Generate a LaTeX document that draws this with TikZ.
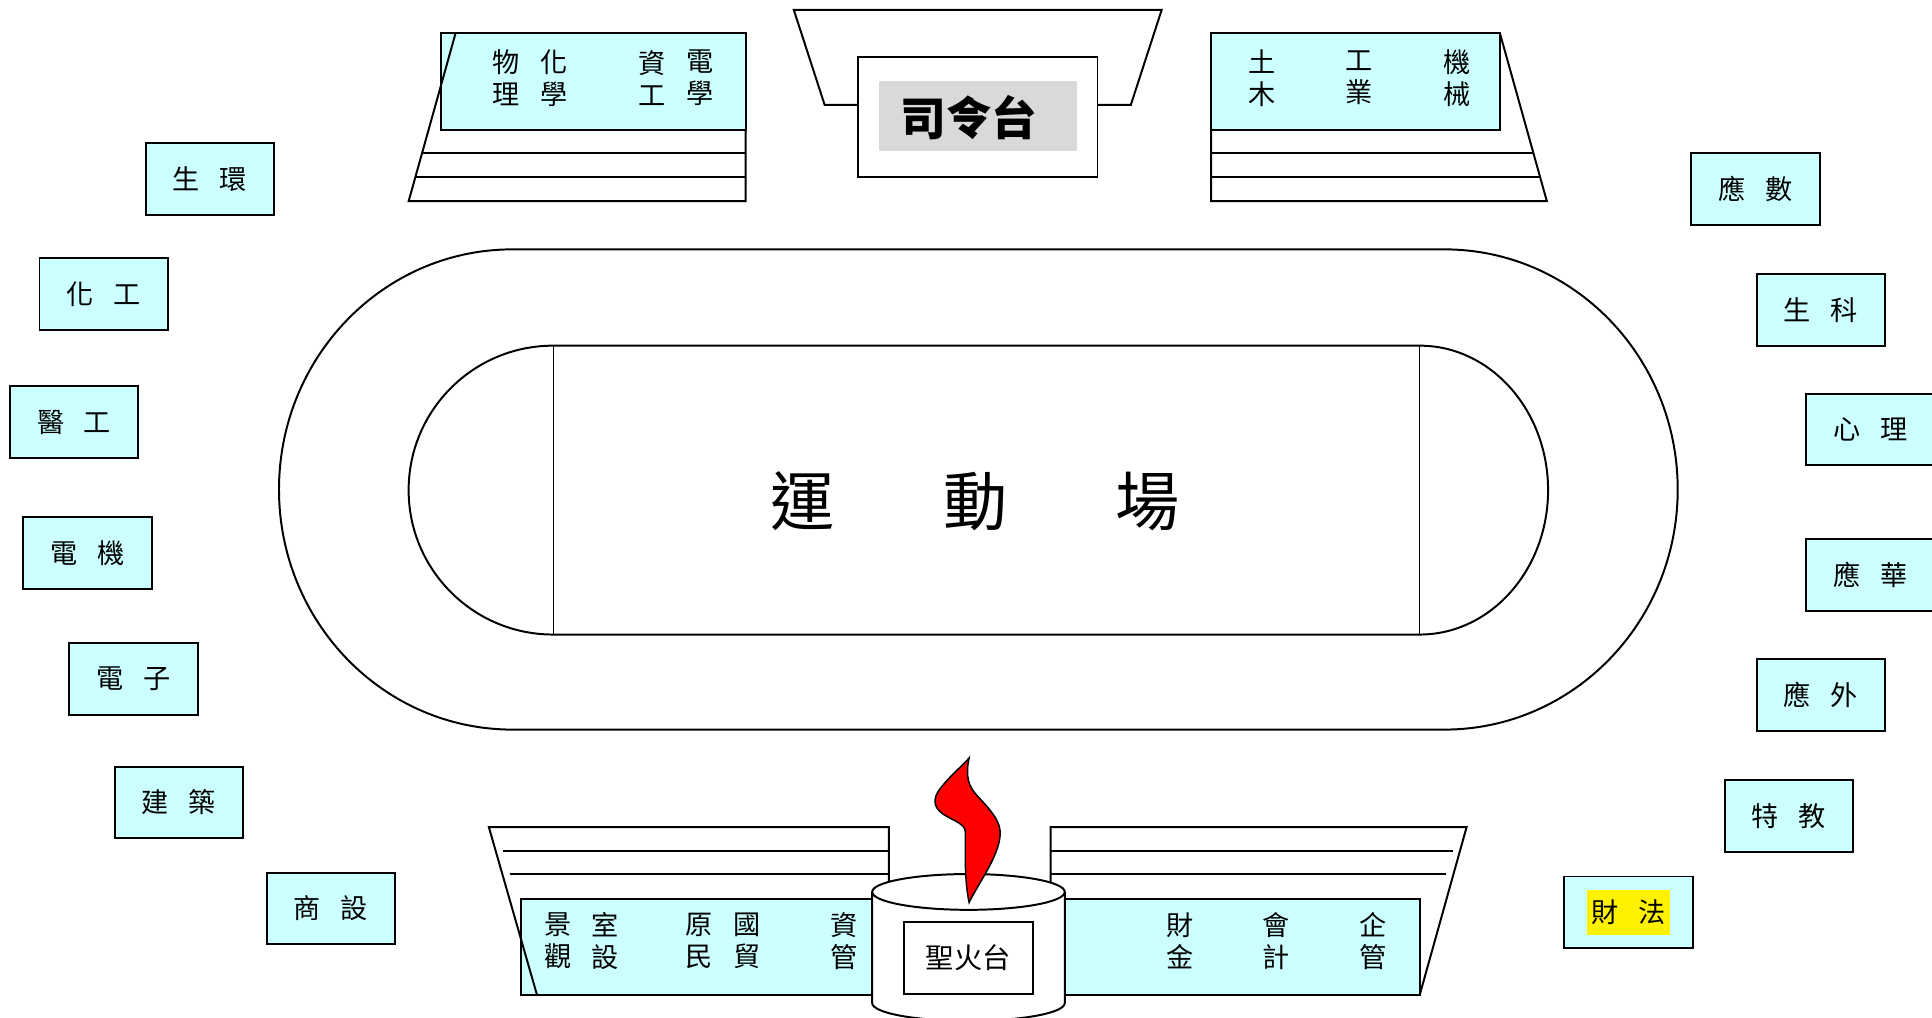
\documentclass[tikz,border=0pt]{standalone}
\usepackage{fontspec}
\setmainfont{Noto Sans CJK TC}
\usepackage{tikz}
\usetikzlibrary{calc}
\definecolor{seatblue}{HTML}{CCFFFF}
\definecolor{stagegray}{HTML}{D9D9D9}
\tikzset{
	dept/.style={draw, fill=seatblue, minimum width=104, minimum height=58, font=\fontsize{22}{26}\selectfont},
	seat/.style={align=center, inner sep=0pt, font=\fontsize{22}{26}\selectfont},
}

\begin{document}
\begin{tikzpicture}[x=1pt, y=-1pt, line width=1.6pt]
			\useasboundingbox (0,0) rectangle (1565,824);
			\fill[white] (0,0) rectangle (1565,824);
			
			% Draw the running track and the field
			\draw (415,202) -- (1170,202) arc[start angle=270, end angle=450, x radius=189, y radius=194.5]
				-- (415,591) arc[start angle=90, end angle=270, x radius=189, y radius=194.5] -- cycle;
			\draw (448,280) -- (1150,280) arc[start angle=270, end angle=450, x radius=104, y radius=117]
				-- (448,514) arc[start angle=90, end angle=270, x radius=117, y radius=117] -- cycle;
			\draw[line width=0.9pt] (448,280) -- (448,514) (1150,280) -- (1150,514);
			\node[font=\fontsize{52}{56}\selectfont] (field) at (790,406) {運\hspace{88pt}動\hspace{88pt}場};
			
			% Stage
			\draw (695,85) -- (668,85) -- (643,8) -- (941,8) -- (916,85) -- (889,85);
			\node[draw, fill=white, minimum width=194, minimum height=97] (stage) at (792,94.5) {};
			\node[fill=stagegray, minimum width=160, minimum height=56] (stagesign) at (792,94) {};
			\node[font=\bfseries\fontsize{37}{40}\selectfont] (stagename) at (785,95) {司令台};
			
			% Stands at the top
			\fill[seatblue] (357,27) rectangle (604,105);
			\draw (357,27) rectangle (604,105);
			\draw (369,27) -- (331,163) -- (604,163) -- (604,105);
			\foreach \h in {124,143}
				\draw ({369-(\h-27)*38/136},\h) -- (604,\h);
			\fill[seatblue] (981,27) rectangle (1215,105);
			\draw (981,27) rectangle (1215,105);
			\draw (1215,27) -- (1253,163) -- (981,163) -- (981,105);
			\foreach \h in {124,143}
				\draw (981,\h) -- ({1215+(\h-27)*38/136},\h);
			
			% Stands at the bottom
			\fill[seatblue] (422,728) rectangle (760,806);
			\draw (422,728) rectangle (760,806);
			\draw (720,728) -- (720,670) -- (396,670) -- (435,806);
			\foreach \h in {689,708}
				\draw ({396+(\h-670)*39/136+6},\h) -- (720,\h);
			\fill[seatblue] (810,728) rectangle (1150,806);
			\draw (810,728) rectangle (1150,806);
			\draw (851,728) -- (851,670) -- (1188,670) -- (1150,806);
			\foreach \h in {689,708}
				\draw (851,\h) -- ({1188-(\h-670)*38/136-6},\h);
			
			% Seat labels
			\foreach \cx/\cy/\txt [count=\i] in {410/63/物\\理, 449/63/化\\學, 528/63/資\\工, 567/63/電\\學,
				1022/63/土\\木, 1101/63/工\\業, 1180/63/機\\械,
				452/762/景\\觀, 490/762/室\\設, 566/762/原\\民, 605/762/國\\貿, 684/762/資\\管,
				956/762/財\\金, 1034/762/會\\計, 1112/762/企\\管}
			{
				\node[seat] (seat\i) at (\cx,\cy) {\txt};
			}
			
			% Torch
			\fill[white] (706.5,722.5) -- (706.5,812.5) arc[start angle=180, end angle=0, x radius=78, y radius=14.5] -- (862.5,722.5) -- cycle;
			\draw (706.5,722.5) -- (706.5,812.5) arc[start angle=180, end angle=0, x radius=78, y radius=14.5] -- (862.5,722.5);
			\draw[fill=white] (784.5,722.5) ellipse [x radius=78, y radius=14.5];
			\node[draw, fill=white, minimum width=104, minimum height=58, font=\fontsize{23}{26}\selectfont] (torch) at (784.5,776) {聖火台};
			\draw[fill=red, line width=1.2pt] (785,614) .. controls (782,628) and (784,637) .. (792,645)
				.. controls (802,656) and (812,666) .. (810,678)
				.. controls (808,695) and (793,715) .. (785,731)
				.. controls (781,712) and (782,690) .. (782,674)
				.. controls (782,666) and (768,664) .. (761,657)
				.. controls (755,651) and (757,644) .. (763,637)
				.. controls (771,627) and (781,619) .. (785,614) -- cycle;
			
			% Departments round the track
			\foreach \px/\py/\a/\b [count=\i] in {170/145/生/環, 84/238/化/工, 60/342/醫/工, 71/448/電/機,
				108/550/電/子, 145/650/建/築, 268/736/商/設, 1422/153/應/數, 1475/251/生/科,
				1515/348/心/理, 1515/466/應/華, 1475/563/應/外, 1449/661/特/教}
			{
				\node[dept] (dept\i) at (\px,\py) {\a\hspace{16pt}\b};
			}
			\node[dept] (caifa) at (1319,739) {};
			\node[fill=yellow, inner xsep=3.5pt, inner ysep=8pt, font=\fontsize{22}{26}\selectfont] (caifatext) at (caifa) {財\hspace{16pt}法};
\end{tikzpicture}
\end{document}
